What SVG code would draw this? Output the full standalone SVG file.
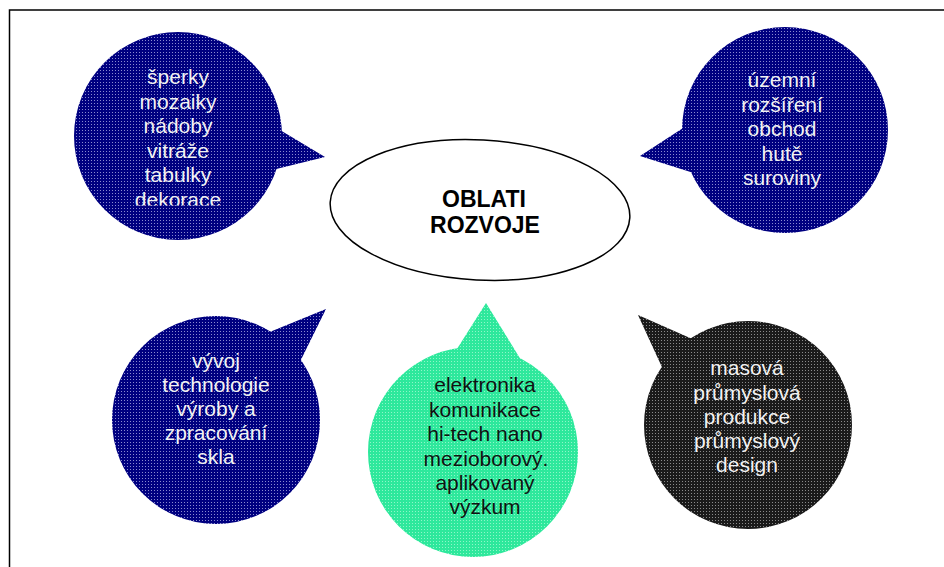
<svg xmlns="http://www.w3.org/2000/svg" width="944" height="567" viewBox="0 0 944 567">
<style>
  .t { font-family: "Liberation Sans", Arial, sans-serif; font-size: 21px; text-anchor: middle; }
  .w { fill: #f2f2f2; }
  .k { fill: #111111; }
  .title { font-family: "Liberation Sans", Arial, sans-serif; font-size: 23px; font-weight: bold; text-anchor: middle; fill: #000; }
</style>
<defs>
  <pattern id="pBlue" patternUnits="userSpaceOnUse" width="3" height="3">
    <rect width="3" height="3" fill="#000080"/>
    <rect x="1" y="1" width="1" height="1" fill="#8a8ad0"/>
  </pattern>
  <pattern id="pGreen" patternUnits="userSpaceOnUse" width="3" height="3">
    <rect width="3" height="3" fill="#2ee89c"/>
    <rect x="1" y="1" width="1" height="1" fill="#8ff5c8"/>
  </pattern>
  <pattern id="pBlack" patternUnits="userSpaceOnUse" width="3" height="3">
    <rect width="3" height="3" fill="#1a1a1a"/>
    <rect x="1" y="1" width="1" height="1" fill="#8a8a8a"/>
  </pattern>
  <clipPath id="clipTL">
    <rect x="60" y="40" width="240" height="165.5"/>
  </clipPath>
</defs>
<rect width="944" height="567" fill="#ffffff"/>
<rect id="frame" x="9.5" y="10" width="950" height="570" fill="none" stroke="#000" stroke-width="1.5"/>

<g id="connectors"></g>

<g id="node-sperky">
  <circle cx="178" cy="136" r="104" fill="url(#pBlue)"/>
  <polygon points="260,118 325,157 260,173" fill="url(#pBlue)"/>
  <g clip-path="url(#clipTL)">
    <text class="t w" x="178" y="84.3">šperky</text>
    <text class="t w" x="178" y="108.8">mozaiky</text>
    <text class="t w" x="178" y="133.3">nádoby</text>
    <text class="t w" x="178" y="157.8">vitráže</text>
    <text class="t w" x="178" y="182.3">tabulky</text>
    <text class="t w" x="178" y="207">dekorace</text>
  </g>
</g>

<g id="node-uzemni">
  <circle cx="785" cy="130" r="103" fill="url(#pBlue)"/>
  <polygon points="700,117 640,156 700,175" fill="url(#pBlue)"/>
  <text class="t w" x="782" y="87">územní</text>
  <text class="t w" x="782" y="111.5">rozšíření</text>
  <text class="t w" x="782" y="136">obchod</text>
  <text class="t w" x="782" y="160.5">hutě</text>
  <text class="t w" x="782" y="185">suroviny</text>
</g>

<g id="node-center">
  <ellipse cx="480" cy="210" rx="150" ry="70" transform="rotate(3 480 210)" fill="#ffffff" stroke="#000" stroke-width="1.5"/>
  <text class="title" x="484" y="207">OBLATI</text>
  <text class="title" x="485" y="233">ROZVOJE</text>
</g>

<g id="node-vyvoj">
  <circle cx="216" cy="420" r="104" fill="url(#pBlue)"/>
  <polygon points="255,338 326,309 290,382" fill="url(#pBlue)"/>
  <text class="t w" x="216" y="368">vývoj</text>
  <text class="t w" x="216" y="392">technologie</text>
  <text class="t w" x="216" y="416">výroby a</text>
  <text class="t w" x="216" y="440">zpracování</text>
  <text class="t w" x="216" y="464">skla</text>
</g>

<g id="node-elektronika">
  <circle cx="473" cy="452" r="105" fill="url(#pGreen)"/>
  <polygon points="450,360 486,303 521,360" fill="url(#pGreen)"/>
  <text class="t k" x="485" y="392">elektronika</text>
  <text class="t k" x="485" y="416.5">komunikace</text>
  <text class="t k" x="485" y="441">hi-tech nano</text>
  <text class="t k" x="486" y="465.5">mezioborový.</text>
  <text class="t k" x="485" y="490">aplikovaný</text>
  <text class="t k" x="485" y="514">výzkum</text>
</g>

<g id="node-masova">
  <circle cx="748" cy="425" r="104" fill="url(#pBlack)"/>
  <polygon points="715,349 638,315 672,389" fill="url(#pBlack)"/>
  <text class="t w" x="747" y="375">masová</text>
  <text class="t w" x="747" y="399.5">průmyslová</text>
  <text class="t w" x="747" y="424">produkce</text>
  <text class="t w" x="747" y="448">průmyslový</text>
  <text class="t w" x="747" y="472">design</text>
</g>
</svg>
